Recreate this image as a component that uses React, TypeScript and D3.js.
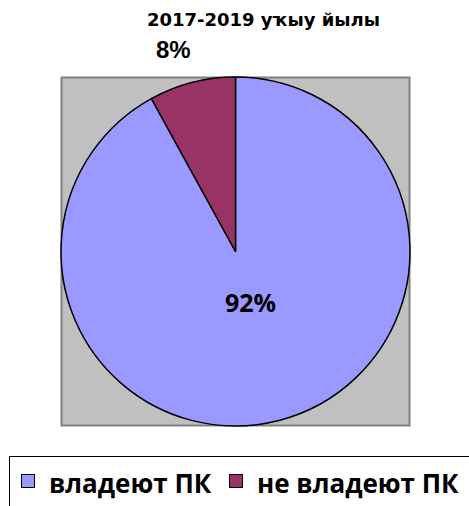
import React from "react";
import * as d3 from "d3";

// values
const categories = ["владеют ПК", "не владеют ПК"];
const values = [92, 8];
const colors = ["#9999FF", "#993366"];
const title = "2017-2019 уҡыу йылы";

const W = 469;
const H = 506;

export default function App() {
	const cx = 235.5;
	const cy = 251.5;
	const r = 174.5;

	const pie = d3.pie<number>().sort(null).value((d) => d)(values);
	const arc = d3.arc<d3.PieArcDatum<number>>().innerRadius(0).outerRadius(r);

	// label positions: big slice label inside, small slice label outside above
	const innerLabel = d3.arc<d3.PieArcDatum<number>>().innerRadius(r * 0.3).outerRadius(r * 0.3);
	const outerLabel = d3.arc<d3.PieArcDatum<number>>().innerRadius(r * 1.18).outerRadius(r * 1.18);

	return (
		<div style={{ position: "absolute", left: 0, top: 0 }}>
			<svg width={W} height={H} style={{ display: "block" }}>
				<rect width={W} height={H} fill="#fff" />
				<text x={263.5} y={26} textAnchor="middle" fontFamily="DejaVu Sans" fontWeight="bold" fontSize={18}>
					{title}
				</text>

				{/* plot area */}
				<rect x={61.5} y={77.5} width={348} height={348} fill="#C0C0C0" stroke="#808080" strokeWidth={2} />

				<g transform={`translate(${cx},${cy})`}>
					{pie.map((p, i) => (
						<path key={categories[i]} d={arc(p) ?? ""} fill={colors[i]} stroke="#000" strokeWidth={1.5} />
					))}
					{pie.map((p, i) => {
						const [lx, ly] = i === 0 ? innerLabel.centroid(p) : outerLabel.centroid(p);
						return (
							<text
								key={"l" + i}
								x={i === 0 ? lx + 2 : lx - 11}
								y={i === 0 ? ly : ly - 3}
								textAnchor="middle"
								dominantBaseline="central"
								fontFamily={i === 0 ? "Open Sans" : "Liberation Sans, Arial"}
								fontWeight="bold"
								fontSize={i === 0 ? 25 : 24}
							>
								{`${p.data}%`}
							</text>
						);
					})}
				</g>

				{/* legend */}
				<rect x={9.5} y={456.5} width={470} height={60} fill="#fff" stroke="#000" strokeWidth={1} />
				{categories.map((c, i) => {
					const x0 = i === 0 ? 21 : 229;
					return (
						<g key={c}>
							<rect x={x0 + 0.5} y={474.5} width={13} height={13} fill={colors[i]} stroke="#000" strokeWidth={1} />
							<text x={x0 + 28} y={493} fontFamily="Open Sans, Noto Sans" fontWeight="bold" fontSize={26}>
								{c}
							</text>
						</g>
					);
				})}
			</svg>
		</div>
	);
}
